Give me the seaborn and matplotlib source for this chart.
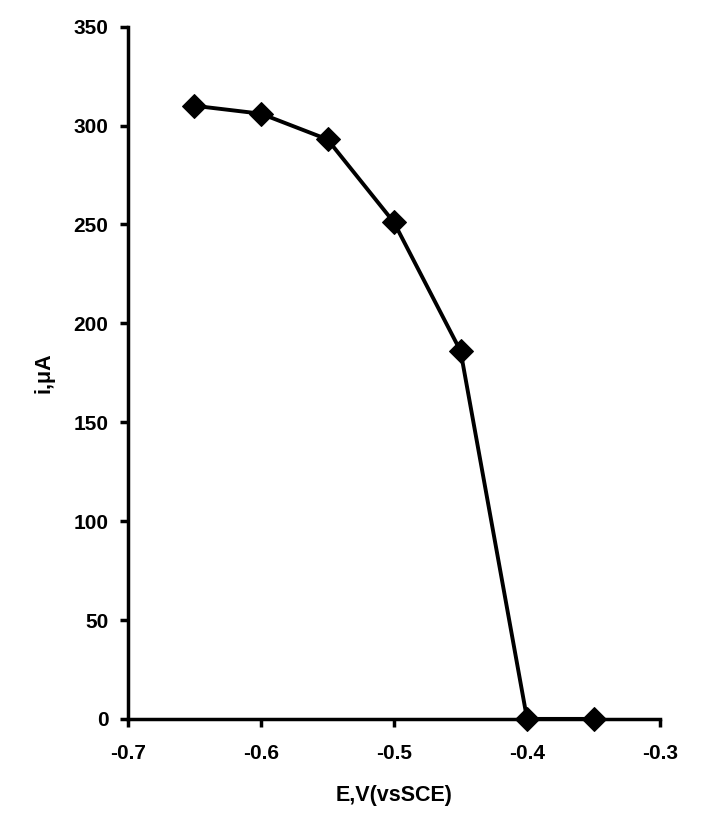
import numpy as np
import pandas as pd
import matplotlib
matplotlib.use("Agg")
import matplotlib.pyplot as plt
import seaborn as sns

# データ
E_values = [-0.65, -0.60, -0.55, -0.50, -0.45, -0.40, -0.35]   # E,V(vsSCE)
i_values = [310, 306, 293, 251, 186, 0, 0]                      # i,μA
x_ticks = [-0.7, -0.6, -0.5, -0.4, -0.3]
y_ticks = [0, 50, 100, 150, 200, 250, 300, 350]

df = pd.DataFrame({"E": E_values, "i": i_values})

sns.set_style("white")
plt.rcParams['font.family'] = ['Liberation Sans', 'DejaVu Sans']

fig = plt.figure(figsize=(7.03, 8.34), dpi=100)
ax = fig.add_axes([0.182, 0.138, 0.757, 0.830])

sns.lineplot(data=df, x="E", y="i", ax=ax, color="black", linewidth=2.8,
             marker="D", markersize=12.5, markeredgecolor="black",
             markerfacecolor="black", clip_on=False, zorder=3)

ax.set_xlim(-0.7, -0.3)
ax.set_ylim(0, 350)
ax.set_xticks(x_ticks)
ax.set_yticks(y_ticks)
ax.set_xticklabels([f"{v:g}" for v in x_ticks])
ax.set_yticklabels([str(v) for v in y_ticks])

#枠線は左と下のみ
for side in ["top", "right"]:
    ax.spines[side].set_visible(False)
for side in ["left", "bottom"]:
    ax.spines[side].set_linewidth(2.5)
    ax.spines[side].set_color("black")

ax.tick_params(axis="both", bottom=True, left=True, direction="out",
               length=6, width=2.5, labelsize=15, colors="black")
ax.tick_params(axis="x", pad=12)
ax.tick_params(axis="y", pad=8)
for lab in ax.get_xticklabels() + ax.get_yticklabels():
    lab.set_fontweight("bold")

ax.set_xlabel("E,V(vsSCE)", fontsize=15.5, fontweight="bold", labelpad=16,
              color="black")
ax.set_ylabel("i,μA", fontsize=15.5, fontweight="bold", labelpad=14,
              color="black")

fig.savefig("out.png", dpi=100, facecolor="white")
